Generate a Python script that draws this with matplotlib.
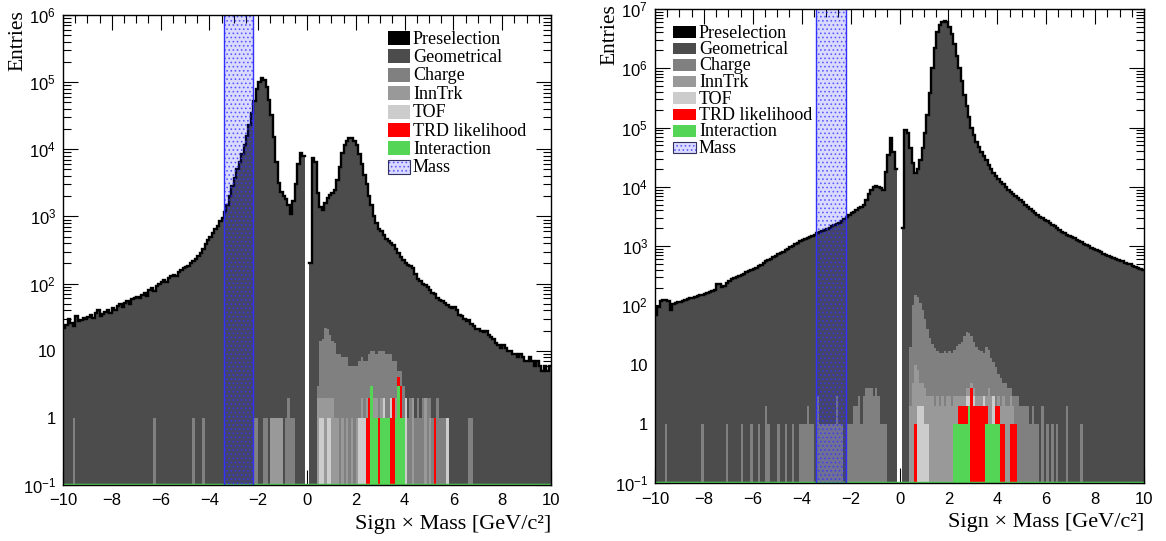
import numpy as np
import matplotlib
matplotlib.use('Agg')
import matplotlib.pyplot as plt
from matplotlib.patches import Rectangle
from matplotlib.ticker import FixedLocator, MultipleLocator, FuncFormatter, NullFormatter

plt.rcParams['mathtext.fontset'] = 'custom'
plt.rcParams['mathtext.rm'] = 'Liberation Sans'
plt.rcParams['mathtext.it'] = 'Liberation Sans'
plt.rcParams['hatch.linewidth'] = 0.7

# 200 bins of 0.1 from -10 to 10
edges = np.linspace(-10, 10, 201)

# ---- left panel: geometrical selection (bin contents, one row per unit of x)
left_geo = [
    22, 24, 30, 26, 23, 33, 28, 29, 31, 30,
    32, 34, 31, 36, 41, 33, 35, 38, 40, 37,
    44, 41, 46, 49, 45, 52, 55, 50, 58, 61,
    63, 60, 68, 72, 66, 80, 85, 78, 92, 100,
    106, 112, 104, 120, 128, 134, 130, 148, 160, 170,
    178, 185, 200, 215, 235, 255, 290, 330, 390, 450,
    500, 560, 640, 720, 860, 950, 1150, 1500, 2000, 2800,
    3800, 5000, 6500, 8500, 11500, 16000, 23000, 35000, 52000, 78000,
    102000, 115000, 108000, 85000, 55000, 32000, 15000, 6500, 3200, 2300,
    2000, 1800, 1500, 1100, 1700, 3000, 6000, 8700, 8000, 0,
    0, 200, 7300, 6500, 2200, 1400, 1250, 1600, 1900, 2100,
    2200, 2450, 3500, 5500, 8700, 11500, 13500, 14500, 14500, 13500,
    11500, 8500, 6000, 4200, 3000, 2000, 1500, 1000, 800, 650,
    600, 520, 460, 430, 400, 370, 330, 290, 250, 225,
    205, 190, 180, 170, 140, 115, 110, 100, 95, 88,
    80, 72, 70, 62, 57, 55, 51, 48, 45, 44,
    45, 40, 34, 33, 30, 28, 29, 25, 23, 21,
    21, 20, 19, 20, 17, 16, 15, 13, 12, 11,
    12, 11, 10, 10, 9, 9, 8, 9, 8, 7,
    7, 8, 7, 6, 7, 6, 5, 6, 5, 6,
]

# ---- right panel: geometrical selection
right_geo = [
    70, 95, 118, 122, 124, 120, 83, 105, 108, 112,
    115, 118, 122, 128, 132, 135, 138, 142, 148, 152,
    158, 162, 168, 172, 180, 232, 228, 205, 210, 240,
    260, 280, 295, 302, 310, 330, 345, 360, 375, 390,
    410, 430, 455, 480, 510, 550, 585, 615, 650, 690,
    730, 770, 810, 860, 910, 960, 1020, 1080, 1140, 1200,
    1260, 1310, 1360, 1420, 1480, 1550, 1640, 1720, 1800, 1880,
    1960, 2050, 2150, 2250, 2400, 2500, 2650, 2850, 3050, 3300,
    3550, 3800, 4100, 4400, 4600, 5000, 6000, 7500, 9000, 10000,
    10200, 10000, 9500, 8900, 18000, 35000, 66000, 39000, 20000, 0,
    0, 2000, 91000, 80000, 45000, 25000, 17000, 20000, 28000, 45000,
    80000, 160000, 380000, 1.0e6, 2.2e6, 4.0e6, 5.4e6, 6.1e6, 6.3e6, 6.0e6,
    5.0e6, 3.8e6, 2.6e6, 1.6e6, 1.0e6, 6.0e5, 3.6e5, 2.3e5, 1.5e5, 1.0e5,
    75000, 58000, 46000, 39000, 33000, 28000, 23500, 20000, 17000, 15000,
    13500, 12200, 11000, 10000, 9000, 8200, 7500, 6900, 6400, 6000,
    5500, 5000, 4500, 4200, 3900, 3600, 3350, 3150, 2950, 2750,
    2600, 2450, 2300, 2150, 2000, 1850, 1750, 1650, 1560, 1500,
    1420, 1350, 1290, 1230, 1170, 1100, 1040, 990, 930, 880,
    850, 820, 780, 750, 720, 690, 665, 640, 610, 590,
    570, 550, 525, 505, 490, 470, 450, 430, 415, 400,
]

# ---- sparse selections: bin centres and entries
left_charge_x = [-9.55, -6.25, -4.65, -4.25, -2.15, -2.05, -1.75, -1.65, -1.45, -1.35, -1.25,
                 -1.15, -1.05, -0.85, -0.75, -0.65, -0.55,
                 0.45, 0.55, 0.65, 0.75, 0.85, 0.95, 1.05, 1.15, 1.25, 1.35, 1.45, 1.55, 1.65,
                 1.75, 1.85, 1.95, 2.05, 2.15, 2.25, 2.35, 2.45, 2.55, 2.65, 2.75, 2.85, 2.95,
                 3.05, 3.15, 3.25, 3.35, 3.45, 3.55, 3.65, 3.75, 3.85, 3.95, 4.05, 4.15, 4.25,
                 4.35, 4.45, 4.55, 4.65, 4.75, 4.85, 4.95, 5.05, 5.15, 5.25, 5.35, 5.45, 5.55,
                 5.65, 5.75, 6.65, 6.75]
left_charge_n = [1, 1, 1, 1, 1, 1, 1, 1, 1, 1, 1, 1, 1, 1, 2, 1, 1,
                 3, 14, 15, 22, 21, 17, 14, 13, 9, 9, 8, 8, 8, 6, 6, 6, 6, 7, 8, 7, 7, 9, 10,
                 10, 9, 10, 10, 10, 9, 9, 9, 7, 7, 5, 5, 3, 2, 1, 2, 2, 1, 2, 1, 2, 1, 2, 2,
                 1, 1, 2, 1, 1, 1, 1, 1, 1]
left_inntrk_x = [-1.45, -1.35, -1.25, -1.15, -1.05, 0.45, 0.55, 0.65, 0.75, 0.85, 0.95, 1.05,
                 1.15, 1.25, 1.45, 1.65, 1.85, 2.05, 2.15, 2.25, 2.35, 2.45, 2.55, 2.65, 2.75,
                 2.85, 2.95, 3.05, 3.15, 3.25, 3.35, 3.45, 3.55, 3.65, 3.75, 3.85, 3.95, 4.05,
                 4.35, 4.85, 5.05, 5.75]
left_inntrk_n = [1, 1, 1, 1, 1, 2, 2, 2, 2, 2, 2, 2, 1, 1, 1, 1, 1, 1, 1, 2, 1, 2, 2, 3, 2,
                 2, 1, 2, 2, 1, 1, 2, 2, 2, 4, 3, 1, 2, 2, 2, 1, 1]
left_tof_x = [0.55, 0.65, 0.85, 0.95, 2.15, 2.25, 2.35, 2.55, 2.65, 2.75, 2.95, 3.15, 3.45,
              3.55, 3.75, 3.85, 4.05, 5.75]
left_tof_n = [1, 1, 1, 1, 1, 1, 1, 2, 3, 1, 1, 2, 2, 2, 4, 3, 2, 1]
left_trd_x = [2.45, 2.55, 2.65, 2.75, 2.85, 2.95, 3.05, 3.15, 3.25, 3.45, 3.55, 3.65, 3.75,
              3.85, 3.95, 5.25]
left_trd_n = [1, 2, 3, 1, 1, 1, 1, 1, 1, 1, 2, 1, 4, 3, 1, 1]
left_int_x = [2.65, 2.75, 2.85, 3.05, 3.15, 3.25, 3.35, 3.65, 3.75, 3.85, 3.95]
left_int_n = [3, 1, 1, 1, 1, 1, 1, 1, 3, 1, 1]

right_charge_x = [-9.55, -8.05, -7.05, -6.45, -6.05, -5.75, -5.45, -5.35, -4.95, -4.65, -4.35,
                  -4.05, -3.95, -3.85, -3.75, -3.65, -3.55, -3.35, -3.25, -3.15, -3.05, -2.95,
                  -2.85, -2.75, -2.65, -2.55, -2.45, -2.35, -2.15, -2.05, -1.95, -1.85, -1.75,
                  -1.65, -1.55, -1.45, -1.35, -1.25, -1.15, -1.05, -0.95, -0.85, -0.75, -0.65,
                  -0.55,
                  0.45, 0.55, 0.65, 0.75, 0.85, 0.95, 1.05, 1.15, 1.25, 1.35, 1.45, 1.55, 1.65,
                  1.75, 1.85, 1.95, 2.05, 2.15, 2.25, 2.35, 2.45, 2.55, 2.65, 2.75, 2.85, 2.95,
                  3.05, 3.15, 3.25, 3.35, 3.45, 3.55, 3.65, 3.75, 3.85, 3.95, 4.05, 4.15, 4.25,
                  4.35, 4.45, 4.55, 4.65, 4.75, 4.85, 4.95, 5.05, 5.15, 5.25, 5.35, 5.45, 5.55,
                  5.65, 5.85, 6.05, 6.25, 6.45, 6.85, 7.45]
right_charge_n = [1, 1, 1, 1, 1, 1, 2, 1, 1, 1, 1, 1, 1, 1, 2, 1, 1, 3, 1, 1, 1, 1, 1, 1, 1,
                  3, 1, 1, 1, 1, 1, 2, 2, 3, 1, 3, 4, 4, 4, 3, 4, 3, 1, 1, 1,
                  20, 100, 150, 140, 110, 85, 60, 40, 28, 22, 19, 17, 16, 16, 17, 16, 17, 16, 18,
                  21, 22, 24, 30, 35, 34, 30, 24, 20, 18, 17, 16, 20, 18, 13, 11, 9, 7, 6, 5, 5,
                  4, 4, 3, 3, 3, 2, 2, 2, 2, 1, 2, 1, 1, 2, 1, 1, 1, 2, 1]
right_inntrk_x = [0.45, 0.55, 0.65, 0.75, 0.85, 0.95, 1.05, 1.15, 1.25, 1.35, 1.45, 1.55, 1.65,
                  1.75, 1.85, 1.95, 2.05, 2.15, 2.25, 2.35, 2.45, 2.55, 2.65, 2.75, 2.85, 2.95,
                  3.05, 3.15, 3.25, 3.35, 3.45, 3.55, 3.65, 3.75, 3.85, 3.95, 4.05, 4.15, 4.25,
                  4.35, 4.45, 4.55, 4.65]
right_inntrk_n = [2, 5, 10, 8, 5, 5, 4, 3, 3, 3, 2, 3, 2, 3, 2, 3, 3, 2, 3, 3, 3, 3, 3, 4, 4,
                  5, 4, 3, 3, 3, 3, 3, 4, 3, 3, 2, 3, 2, 3, 2, 2, 3, 2]
right_tof_x = [0.75, 0.85, 0.95, 1.05, 1.15, 2.25, 2.75, 2.85, 2.95, 3.05, 3.45, 3.55, 3.85]
right_tof_n = [2, 2, 2, 1, 1, 1, 3, 3, 4, 3, 3, 2, 3]
right_trd_x = [0.65, 2.35, 2.45, 2.55, 2.65, 2.75, 2.85, 2.95, 3.05, 3.15, 3.25, 3.35, 3.45,
               3.55, 3.65, 3.75, 3.95, 4.05, 4.15, 4.25, 4.55, 4.65, 4.75]
right_trd_n = [1, 1, 2, 2, 2, 2, 2, 4, 2, 2, 2, 2, 2, 2, 1, 1, 2, 2, 1, 1, 1, 1, 1]
right_int_x = [2.25, 2.35, 2.45, 2.55, 2.65, 2.75, 2.85, 3.55, 3.65, 3.75, 3.85, 3.95, 4.05]
right_int_n = [1, 1, 1, 1, 1, 1, 2, 1, 1, 1, 1, 1, 1]

mass_window = (-3.4, -2.2)

labels = ['Preselection', 'Geometrical', 'Charge', 'InnTrk', 'TOF', 'TRD likelihood',
          'Interaction', 'Mass']
colors = ['black', '#4c4c4c', '#808080', '#999999', '#cccccc', '#ff0000', '#55d555']
band_face = (0.15, 0.15, 1.0, 0.17)
band_dots = (0.2, 0.2, 1.0, 0.7)
band_line = '#3030ff'

serif = ['Liberation Serif', 'DejaVu Serif']
sans = ['Liberation Sans', 'DejaVu Sans']
W, H = 1166, 541


def yfmt(v, pos):
    e = int(round(np.log10(v)))
    if e == 0:
        return '1'
    if e == 1:
        return '10'
    return '$10^{%d}$' % e


def draw(ax, geo, sparse, top_exp):
    geo = np.asarray(geo, float)
    ax.stairs(np.clip(geo, 1e-3, None), edges, fill=True, color=colors[1], baseline=1e-3,
              zorder=2)
    # preselection outline: only along the top of non-empty bins
    xs = np.repeat(edges, 2)[1:-1]
    ys = np.repeat(np.where(geo > 0, geo, np.nan), 2)
    ax.plot(xs, ys, color=colors[0], lw=1.7, zorder=3, solid_joinstyle='miter')
    for (bx, bn), c in zip(sparse, colors[2:]):
        ax.bar(bx, bn, width=0.1, color=c, linewidth=0, zorder=4)
    ax.axhline(0.1, color=colors[6], lw=2.5, zorder=5)
    ax.axvspan(*mass_window, facecolor=band_face, lw=0, zorder=6)
    ax.axvspan(*mass_window, facecolor='none', edgecolor=band_dots, hatch='....', lw=0,
               zorder=6)
    for xv in mass_window:
        ax.axvline(xv, color=band_line, lw=1.0, zorder=7)

    ax.set_yscale('log')
    ax.set_xlim(-10, 10)
    ax.set_ylim(0.1, 10.0 ** top_exp)
    ax.xaxis.set_major_locator(MultipleLocator(2))
    ax.xaxis.set_minor_locator(MultipleLocator(0.5))
    majors = [10.0 ** k for k in range(-1, top_exp + 1)]
    minors = [m * 10.0 ** k for k in range(-1, top_exp) for m in range(2, 10)]
    ax.yaxis.set_major_locator(FixedLocator(majors))
    ax.yaxis.set_minor_locator(FixedLocator(minors))
    ax.yaxis.set_major_formatter(FuncFormatter(yfmt))
    ax.yaxis.set_minor_formatter(NullFormatter())
    ax.tick_params(which='both', direction='in', top=True, right=True, width=0.8,
                   labelsize=12)
    ax.tick_params(which='major', length=11)
    ax.tick_params(which='minor', length=5.5)
    ax.tick_params(axis='x', pad=6)
    ax.tick_params(axis='y', pad=5)
    for lab in ax.get_xticklabels() + ax.get_yticklabels():
        lab.set_fontfamily(sans)
    for s in ax.spines.values():
        s.set_linewidth(1.0)
        s.set_zorder(9)


def legend(x0, yc0, dy, bw, bh, tx, fs):
    for i, lab in enumerate(labels):
        yc = yc0 + i * dy
        box = (x0 / W, 1 - (yc + bh / 2) / H)
        if i < len(colors):
            fig.add_artist(Rectangle(box, bw / W, bh / H, transform=fig.transFigure,
                                     facecolor=colors[i], edgecolor='none'))
        else:
            fig.add_artist(Rectangle(box, bw / W, bh / H, transform=fig.transFigure,
                                     facecolor='white', edgecolor='none'))
            fig.add_artist(Rectangle(box, bw / W, bh / H, transform=fig.transFigure,
                                     facecolor=band_face, edgecolor='none'))
            fig.add_artist(Rectangle(box, bw / W, bh / H, transform=fig.transFigure,
                                     facecolor='none', edgecolor=band_dots, hatch='....',
                                     lw=0))
            fig.add_artist(Rectangle(box, bw / W, bh / H, transform=fig.transFigure,
                                     facecolor='none', edgecolor='#303060', lw=0.8))
        fig.text(tx / W, 1 - (yc + 5.5) / H, lab, ha='left', va='baseline', family=serif,
                 size=fs)


fig = plt.figure(figsize=(W / 100, H / 100), dpi=100)
axL = fig.add_axes([63 / W, 1 - 485 / H, 488 / W, 470 / H])
axR = fig.add_axes([655 / W, 1 - 483.3 / H, 489 / W, 474.4 / H])

draw(axL, left_geo, [(left_charge_x, left_charge_n), (left_inntrk_x, left_inntrk_n),
                     (left_tof_x, left_tof_n), (left_trd_x, left_trd_n),
                     (left_int_x, left_int_n)], 6)
draw(axR, right_geo, [(right_charge_x, right_charge_n), (right_inntrk_x, right_inntrk_n),
                      (right_tof_x, right_tof_n), (right_trd_x, right_trd_n),
                      (right_int_x, right_int_n)], 7)

legend(387.5, 38, 18.4, 22, 14, 413, 13)
legend(672.5, 32, 16.5, 23.5, 11.5, 699, 13)

for x, y in [(18 / W, 1 - 10 / H), (610 / W, 1 - 4 / H)]:
    fig.text(x, y, 'Entries', rotation=90, ha='center', va='top', family=serif, size=15.5)
for x, y in [(551 / W, 1 - 525 / H), (1144 / W, 1 - 523 / H)]:
    fig.text(x, y, 'Sign × Mass [GeV/c²]', ha='right', va='center', family=serif, size=16)

fig.savefig('out.png', dpi=100)
